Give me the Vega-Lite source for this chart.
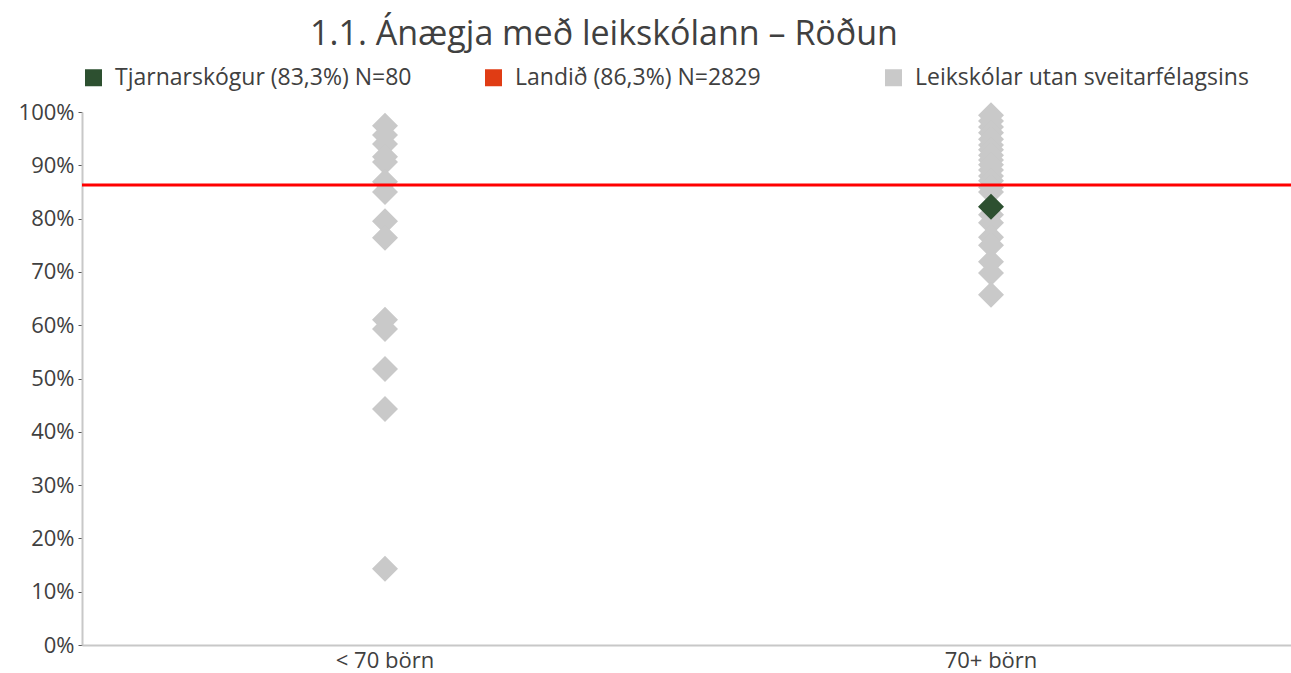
{
  "$schema": "https://vega.github.io/schema/vega-lite/v6.json",
  "width": 1212,
  "height": 533,
  "autosize": {"type": "none"},
  "padding": {"left": 82, "top": 112, "right": 0, "bottom": 28},
  "background": "white",
  "config": {"view": {"stroke": null}, "font": "Open Sans"},
  "title": {
    "text": "1.1. Ánægja með leikskólann – Röðun",
    "anchor": "middle",
    "dx": -84,
    "fontSize": 34,
    "fontWeight": "normal",
    "color": "#404040",
    "offset": 14
  },
  "datasets": {
    "schools": [
      {"flokkur": "< 70 börn", "hlutfall": 0.974, "hopur": "Leikskólar utan sveitarfélagsins"},
      {"flokkur": "< 70 börn", "hlutfall": 0.957, "hopur": "Leikskólar utan sveitarfélagsins"},
      {"flokkur": "< 70 börn", "hlutfall": 0.940, "hopur": "Leikskólar utan sveitarfélagsins"},
      {"flokkur": "< 70 börn", "hlutfall": 0.916, "hopur": "Leikskólar utan sveitarfélagsins"},
      {"flokkur": "< 70 börn", "hlutfall": 0.906, "hopur": "Leikskólar utan sveitarfélagsins"},
      {"flokkur": "< 70 börn", "hlutfall": 0.869, "hopur": "Leikskólar utan sveitarfélagsins"},
      {"flokkur": "< 70 börn", "hlutfall": 0.850, "hopur": "Leikskólar utan sveitarfélagsins"},
      {"flokkur": "< 70 börn", "hlutfall": 0.795, "hopur": "Leikskólar utan sveitarfélagsins"},
      {"flokkur": "< 70 börn", "hlutfall": 0.764, "hopur": "Leikskólar utan sveitarfélagsins"},
      {"flokkur": "< 70 börn", "hlutfall": 0.610, "hopur": "Leikskólar utan sveitarfélagsins"},
      {"flokkur": "< 70 börn", "hlutfall": 0.593, "hopur": "Leikskólar utan sveitarfélagsins"},
      {"flokkur": "< 70 börn", "hlutfall": 0.518, "hopur": "Leikskólar utan sveitarfélagsins"},
      {"flokkur": "< 70 börn", "hlutfall": 0.443, "hopur": "Leikskólar utan sveitarfélagsins"},
      {"flokkur": "< 70 börn", "hlutfall": 0.143, "hopur": "Leikskólar utan sveitarfélagsins"},
      {"flokkur": "70+ börn", "hlutfall": 0.994, "hopur": "Leikskólar utan sveitarfélagsins"},
      {"flokkur": "70+ börn", "hlutfall": 0.983, "hopur": "Leikskólar utan sveitarfélagsins"},
      {"flokkur": "70+ börn", "hlutfall": 0.972, "hopur": "Leikskólar utan sveitarfélagsins"},
      {"flokkur": "70+ börn", "hlutfall": 0.961, "hopur": "Leikskólar utan sveitarfélagsins"},
      {"flokkur": "70+ börn", "hlutfall": 0.949, "hopur": "Leikskólar utan sveitarfélagsins"},
      {"flokkur": "70+ börn", "hlutfall": 0.938, "hopur": "Leikskólar utan sveitarfélagsins"},
      {"flokkur": "70+ börn", "hlutfall": 0.929, "hopur": "Leikskólar utan sveitarfélagsins"},
      {"flokkur": "70+ börn", "hlutfall": 0.919, "hopur": "Leikskólar utan sveitarfélagsins"},
      {"flokkur": "70+ börn", "hlutfall": 0.910, "hopur": "Leikskólar utan sveitarfélagsins"},
      {"flokkur": "70+ börn", "hlutfall": 0.901, "hopur": "Leikskólar utan sveitarfélagsins"},
      {"flokkur": "70+ börn", "hlutfall": 0.891, "hopur": "Leikskólar utan sveitarfélagsins"},
      {"flokkur": "70+ börn", "hlutfall": 0.880, "hopur": "Leikskólar utan sveitarfélagsins"},
      {"flokkur": "70+ börn", "hlutfall": 0.871, "hopur": "Leikskólar utan sveitarfélagsins"},
      {"flokkur": "70+ börn", "hlutfall": 0.859, "hopur": "Leikskólar utan sveitarfélagsins"},
      {"flokkur": "70+ börn", "hlutfall": 0.850, "hopur": "Leikskólar utan sveitarfélagsins"},
      {"flokkur": "70+ börn", "hlutfall": 0.807, "hopur": "Leikskólar utan sveitarfélagsins"},
      {"flokkur": "70+ börn", "hlutfall": 0.792, "hopur": "Leikskólar utan sveitarfélagsins"},
      {"flokkur": "70+ börn", "hlutfall": 0.765, "hopur": "Leikskólar utan sveitarfélagsins"},
      {"flokkur": "70+ börn", "hlutfall": 0.750, "hopur": "Leikskólar utan sveitarfélagsins"},
      {"flokkur": "70+ börn", "hlutfall": 0.719, "hopur": "Leikskólar utan sveitarfélagsins"},
      {"flokkur": "70+ börn", "hlutfall": 0.698, "hopur": "Leikskólar utan sveitarfélagsins"},
      {"flokkur": "70+ börn", "hlutfall": 0.657, "hopur": "Leikskólar utan sveitarfélagsins"},
      {"flokkur": "70+ börn", "hlutfall": 0.822, "hopur": "Tjarnarskógur (83,3%) N=80"}
    ],
    "landid": [{"hlutfall": 0.863}]
  },
  "layer": [
    {
      "data": {"name": "schools"},
      "mark": {"type": "point", "shape": "diamond", "filled": true, "opacity": 1, "size": 676},
      "encoding": {
        "x": {
          "field": "flokkur",
          "type": "nominal",
          "sort": ["< 70 börn", "70+ börn"],
          "scale": {"type": "band", "paddingInner": 0, "paddingOuter": 0},
          "axis": {
            "title": null,
            "labelAngle": 0,
            "ticks": false,
            "labelFontSize": 22,
            "labelColor": "#404040",
            "labelPadding": 5,
            "domainColor": "#c8c8c8",
            "domainWidth": 2,
            "grid": false
          }
        },
        "y": {
          "field": "hlutfall",
          "type": "quantitative",
          "scale": {"domain": [0, 1], "nice": false, "zero": true},
          "axis": {
            "title": null,
            "format": ".0%",
            "values": [0, 0.1, 0.2, 0.3, 0.4, 0.5, 0.6, 0.7, 0.8, 0.9, 1],
            "labelFontSize": 22,
            "labelColor": "#404040",
            "labelPadding": 4,
            "tickSize": 4,
            "tickColor": "#595959",
            "domainColor": "#c8c8c8",
            "domainWidth": 2,
            "grid": false
          }
        },
        "color": {
          "field": "hopur",
          "type": "nominal",
          "scale": {
            "domain": ["Tjarnarskógur (83,3%) N=80", "Landið (86,3%) N=2829", "Leikskólar utan sveitarfélagsins"],
            "range": ["#2d5030", "#e03c14", "#c9c9c9"]
          },
          "legend": {
            "title": null,
            "orient": "top",
            "direction": "horizontal",
            "symbolType": "square",
            "symbolSize": 289,
            "symbolStrokeWidth": 0,
            "labelFontSize": 23,
            "labelColor": "#404040",
            "labelOffset": 10,
            "gridAlign": "all",
            "columnPadding": 33,
            "labelLimit": 400,
            "padding": 0,
            "offset": 22
          }
        }
      }
    },
    {
      "data": {"name": "landid"},
      "mark": {"type": "rule", "color": "#ff0000", "strokeWidth": 3},
      "encoding": {
        "y": {"field": "hlutfall", "type": "quantitative"}
      }
    }
  ]
}
